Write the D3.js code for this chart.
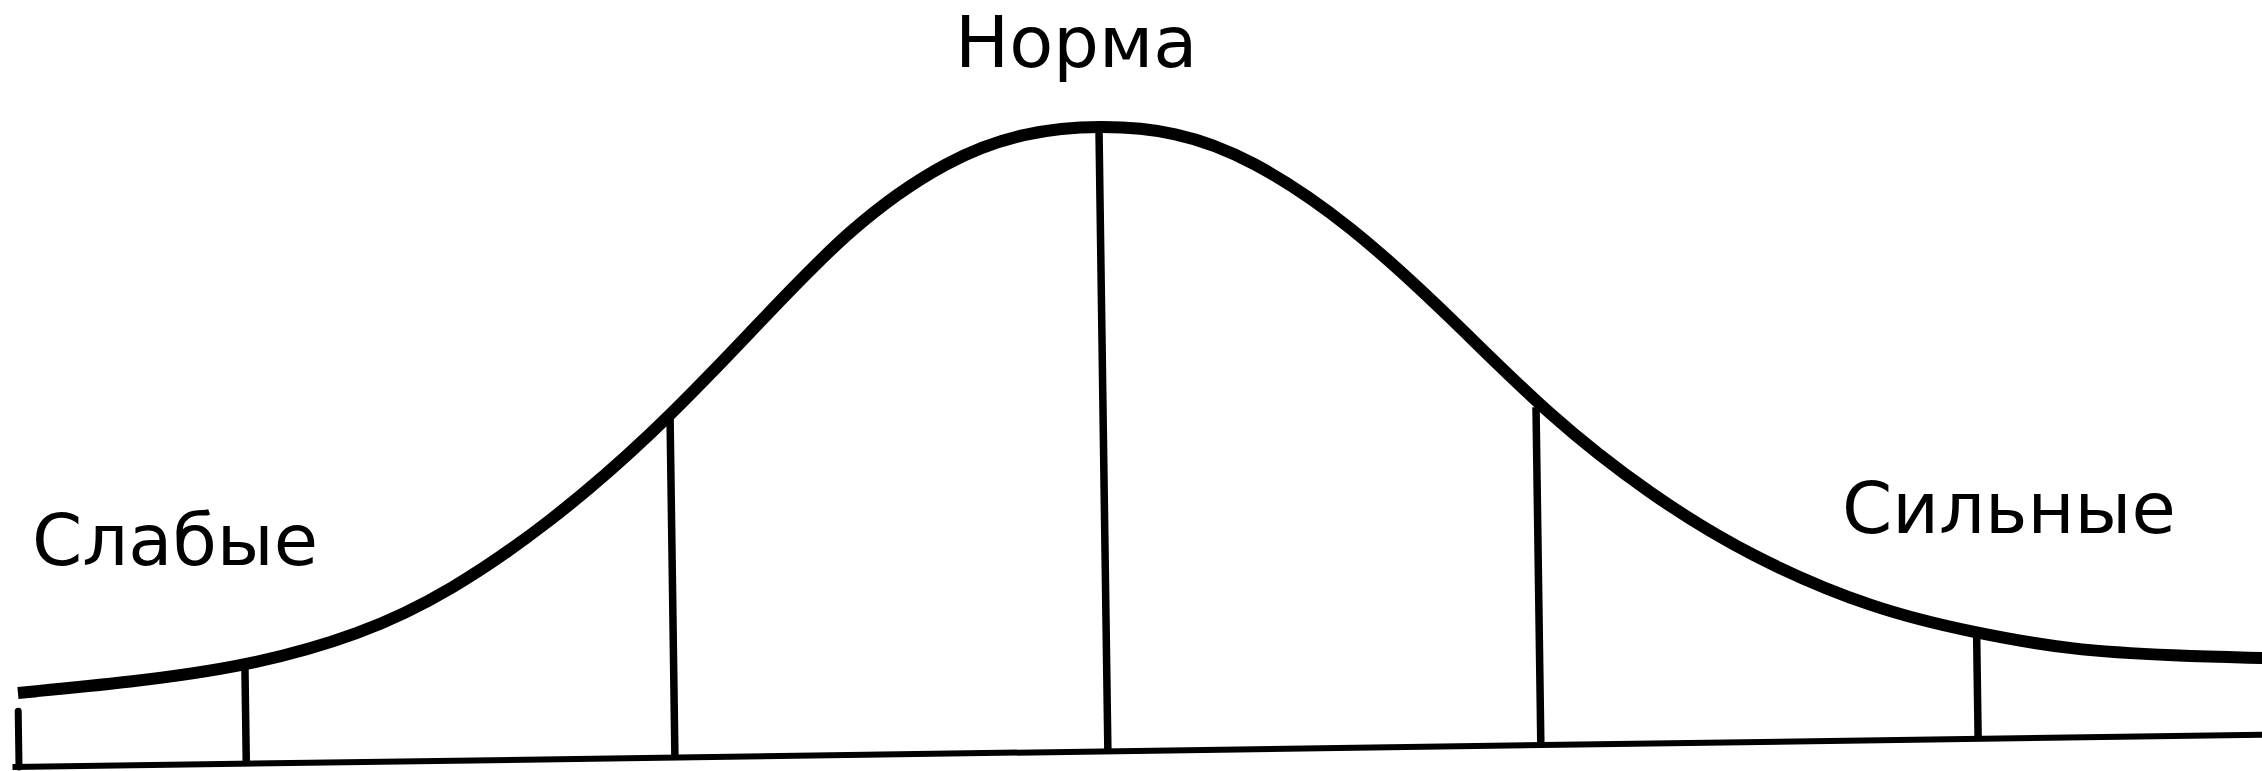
<!DOCTYPE html>
<html lang="ru">
<head>
  <meta charset="UTF-8">
  <title>Нормальное распределение</title>
  <script src="https://d3js.org/d3.v7.min.js"></script>
  <style>
    body { margin: 0; background: #fff; }
  </style>
</head>
<body>
  <svg id="chart" width="2262" height="771"></svg>
  <script>
    // curve: position in sigma units, height (peak = 100)
    const curveX = [-2.515, -2.256, -1.990, -1.721, -1.514, -1.281, -1.047, -0.812, -0.578, -0.345,
                    -0.171, 0.003, 0.176, 0.348, 0.577, 0.805, 1.032, 1.261, 1.490, 1.776,
                    2.007, 2.223, 2.473, 2.669];
    const curveY = [11.85, 13.29, 15.48, 20.34, 27.03, 37.84, 51.39, 67.81, 84.71, 95.44,
                    99.4, 100.3, 99.2, 94.76, 83.89, 68.78, 52.52, 39.81, 29.66, 20.88,
                    16.97, 14.03, 12.81, 12.30];

    // vertical dividers
    const markX = [-1.99, -1.0, 0, 1.0, 2.01];
    const markY = [15.48, 54.54, 100, 54.12, 16.97];

    const tickX = -2.515;
    const tickY = 8.9;
    const axisX = [-2.53, 2.80];

    const labels = ["Слабые", "Норма", "Сильные"];

    const width = 2262, height = 771;
    const svg = d3.select("#chart");

    svg.append("rect").attr("width", width).attr("height", height).attr("fill", "#fff");

    const x = d3.scaleLinear().domain([-1, 1]).range([1108 - 433, 1108 + 433]);
    const y = d3.scaleLinear().domain([0, 100]).range([767, 142.5]);

    // the scanned drawing is slightly tilted
    const g = svg.append("g").attr("transform", "rotate(-0.82, 13, 767)");

    g.append("line")
      .attr("x1", x(axisX[0])).attr("x2", x(axisX[1]))
      .attr("y1", y(0)).attr("y2", y(0))
      .attr("stroke", "#000").attr("stroke-width", 6);

    g.append("line")
      .attr("x1", x(tickX)).attr("x2", x(tickX))
      .attr("y1", y(0)).attr("y2", y(tickY))
      .attr("stroke", "#000").attr("stroke-width", 7)
      .attr("stroke-linecap", "round");

    g.selectAll("line.mark")
      .data(markX)
      .join("line")
      .attr("class", "mark")
      .attr("x1", d => x(d)).attr("x2", d => x(d))
      .attr("y1", y(0))
      .attr("y2", (d, i) => y(markY[i]))
      .attr("stroke", "#000").attr("stroke-width", 7.5);

    const line = d3.line()
      .x(d => x(d[0]))
      .y(d => y(d[1]))
      .curve(d3.curveBasis);

    g.append("path")
      .datum(d3.zip(curveX, curveY))
      .attr("d", line)
      .attr("fill", "none")
      .attr("stroke", "#000")
      .attr("stroke-width", 12);

    const font = "'DejaVu Sans', Verdana, sans-serif";
    svg.append("text").attr("x", 32).attr("y", 565).text(labels[0])
      .attr("font-family", font).attr("font-size", 72);
    svg.append("text").attr("x", 955).attr("y", 67).text(labels[1])
      .attr("font-family", font).attr("font-size", 72);
    svg.append("text").attr("x", 1842).attr("y", 533).text(labels[2])
      .attr("font-family", font).attr("font-size", 72);
  </script>
</body>
</html>
